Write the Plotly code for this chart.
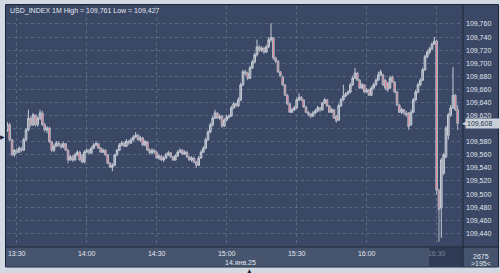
import plotly.graph_objects as go
import pandas as pd

# ---------------- data (USD_INDEX, 1-minute candles, 14 Jan 2025) ----------------
start_time = "2025-01-14 13:26"
n_bars = 194

open_ = [
    109.598, 109.606, 109.583, 109.560, 109.567, 109.564, 109.570, 109.567, 109.583, 109.598,
    109.616, 109.606, 109.621, 109.606, 109.616, 109.624, 109.606, 109.598, 109.601, 109.580,
    109.567, 109.573, 109.578, 109.575, 109.572, 109.577, 109.567, 109.552, 109.557, 109.552,
    109.560, 109.564, 109.560, 109.549, 109.564, 109.567, 109.563, 109.570, 109.575, 109.577,
    109.570, 109.564, 109.567, 109.560, 109.547, 109.541, 109.544, 109.560, 109.567, 109.575,
    109.578, 109.573, 109.581, 109.578, 109.583, 109.587, 109.590, 109.583, 109.586, 109.575,
    109.580, 109.567, 109.563, 109.567, 109.564, 109.555, 109.558, 109.552, 109.555, 109.560,
    109.563, 109.557, 109.552, 109.558, 109.564, 109.567, 109.561, 109.564, 109.557, 109.552,
    109.555, 109.549, 109.544, 109.555, 109.564, 109.570, 109.583, 109.595, 109.606, 109.616,
    109.624, 109.616, 109.619, 109.604, 109.613, 109.618, 109.619, 109.632, 109.638, 109.635,
    109.644, 109.667, 109.687, 109.685, 109.677, 109.693, 109.702, 109.713, 109.725, 109.720,
    109.723, 109.717, 109.725, 109.736, 109.739, 109.708, 109.703, 109.687, 109.679, 109.667,
    109.651, 109.638, 109.625, 109.629, 109.632, 109.644, 109.648, 109.644, 109.633, 109.625,
    109.622, 109.619, 109.624, 109.627, 109.632, 109.629, 109.639, 109.644, 109.635, 109.625,
    109.629, 109.619, 109.613, 109.635, 109.644, 109.650, 109.653, 109.656, 109.667, 109.677,
    109.685, 109.674, 109.662, 109.667, 109.656, 109.659, 109.651, 109.662, 109.667, 109.674,
    109.682, 109.682, 109.674, 109.670, 109.662, 109.679, 109.671, 109.656, 109.636, 109.625,
    109.629, 109.624, 109.624, 109.606, 109.625, 109.644, 109.656, 109.667, 109.674, 109.690,
    109.710, 109.717, 109.722, 109.729, 109.734, 109.506, 109.479, 109.532, 109.557, 109.590,
    109.621, 109.632, 109.651, 109.629,
]
high = [
    109.610, 109.609, 109.584, 109.569, 109.570, 109.573, 109.572, 109.586, 109.601, 109.629,
    109.619, 109.624, 109.622, 109.619, 109.629, 109.627, 109.609, 109.604, 109.603, 109.581,
    109.577, 109.581, 109.581, 109.578, 109.580, 109.578, 109.569, 109.560, 109.560, 109.563,
    109.567, 109.566, 109.561, 109.567, 109.570, 109.569, 109.573, 109.578, 109.581, 109.578,
    109.572, 109.570, 109.569, 109.561, 109.549, 109.547, 109.561, 109.569, 109.578, 109.581,
    109.580, 109.584, 109.583, 109.586, 109.590, 109.595, 109.592, 109.589, 109.587, 109.583,
    109.581, 109.570, 109.570, 109.569, 109.566, 109.561, 109.560, 109.558, 109.563, 109.566,
    109.564, 109.558, 109.561, 109.567, 109.570, 109.569, 109.567, 109.566, 109.558, 109.558,
    109.557, 109.551, 109.558, 109.567, 109.573, 109.586, 109.598, 109.609, 109.619, 109.629,
    109.625, 109.622, 109.621, 109.616, 109.621, 109.622, 109.635, 109.641, 109.639, 109.648,
    109.670, 109.690, 109.690, 109.687, 109.696, 109.705, 109.716, 109.736, 109.728, 109.726,
    109.725, 109.728, 109.740, 109.761, 109.740, 109.710, 109.705, 109.688, 109.681, 109.668,
    109.653, 109.639, 109.632, 109.635, 109.647, 109.654, 109.650, 109.645, 109.635, 109.627,
    109.624, 109.627, 109.630, 109.635, 109.633, 109.641, 109.647, 109.645, 109.636, 109.632,
    109.630, 109.621, 109.638, 109.647, 109.667, 109.656, 109.659, 109.670, 109.681, 109.693,
    109.687, 109.676, 109.670, 109.668, 109.662, 109.661, 109.665, 109.670, 109.677, 109.687,
    109.690, 109.684, 109.676, 109.671, 109.681, 109.681, 109.673, 109.658, 109.638, 109.632,
    109.630, 109.627, 109.625, 109.629, 109.647, 109.659, 109.670, 109.677, 109.693, 109.713,
    109.720, 109.725, 109.732, 109.740, 109.736, 109.508, 109.555, 109.563, 109.604, 109.624,
    109.636, 109.694, 109.653, 109.636,
]
low = [
    109.595, 109.581, 109.558, 109.557, 109.561, 109.563, 109.564, 109.566, 109.581, 109.596,
    109.603, 109.604, 109.603, 109.603, 109.613, 109.604, 109.595, 109.593, 109.578, 109.564,
    109.564, 109.572, 109.572, 109.569, 109.570, 109.566, 109.547, 109.551, 109.549, 109.551,
    109.558, 109.551, 109.547, 109.547, 109.563, 109.560, 109.561, 109.569, 109.573, 109.569,
    109.563, 109.563, 109.558, 109.546, 109.540, 109.535, 109.543, 109.558, 109.566, 109.573,
    109.572, 109.572, 109.575, 109.577, 109.581, 109.586, 109.581, 109.580, 109.573, 109.573,
    109.566, 109.560, 109.561, 109.561, 109.554, 109.552, 109.551, 109.549, 109.554, 109.558,
    109.555, 109.551, 109.551, 109.557, 109.563, 109.560, 109.560, 109.555, 109.551, 109.549,
    109.547, 109.540, 109.543, 109.554, 109.563, 109.569, 109.581, 109.593, 109.603, 109.615,
    109.615, 109.613, 109.601, 109.603, 109.612, 109.615, 109.618, 109.630, 109.632, 109.633,
    109.642, 109.665, 109.681, 109.674, 109.676, 109.691, 109.700, 109.710, 109.717, 109.717,
    109.714, 109.716, 109.723, 109.732, 109.705, 109.700, 109.685, 109.679, 109.665, 109.650,
    109.636, 109.624, 109.624, 109.627, 109.630, 109.642, 109.642, 109.632, 109.624, 109.619,
    109.616, 109.618, 109.622, 109.625, 109.625, 109.627, 109.638, 109.633, 109.624, 109.624,
    109.615, 109.609, 109.612, 109.633, 109.642, 109.648, 109.651, 109.654, 109.665, 109.676,
    109.673, 109.661, 109.661, 109.654, 109.654, 109.650, 109.650, 109.661, 109.665, 109.673,
    109.681, 109.665, 109.659, 109.656, 109.661, 109.670, 109.654, 109.635, 109.624, 109.622,
    109.621, 109.618, 109.598, 109.604, 109.624, 109.642, 109.654, 109.665, 109.673, 109.688,
    109.708, 109.714, 109.720, 109.728, 109.499, 109.427, 109.433, 109.529, 109.555, 109.583,
    109.618, 109.630, 109.627, 109.598,
]
close = [
    109.606, 109.583, 109.560, 109.567, 109.564, 109.570, 109.567, 109.583, 109.598, 109.616,
    109.606, 109.621, 109.606, 109.616, 109.624, 109.606, 109.598, 109.601, 109.580, 109.567,
    109.573, 109.578, 109.575, 109.572, 109.577, 109.567, 109.552, 109.557, 109.552, 109.560,
    109.564, 109.552, 109.549, 109.564, 109.567, 109.563, 109.570, 109.575, 109.577, 109.570,
    109.564, 109.567, 109.560, 109.547, 109.541, 109.544, 109.560, 109.567, 109.575, 109.578,
    109.573, 109.581, 109.578, 109.583, 109.587, 109.590, 109.583, 109.586, 109.575, 109.580,
    109.567, 109.563, 109.567, 109.564, 109.555, 109.558, 109.552, 109.555, 109.560, 109.563,
    109.557, 109.552, 109.558, 109.564, 109.567, 109.561, 109.564, 109.557, 109.552, 109.555,
    109.549, 109.544, 109.555, 109.564, 109.570, 109.583, 109.595, 109.606, 109.616, 109.624,
    109.616, 109.619, 109.604, 109.613, 109.618, 109.619, 109.632, 109.638, 109.635, 109.644,
    109.667, 109.687, 109.684, 109.677, 109.693, 109.702, 109.713, 109.725, 109.720, 109.723,
    109.717, 109.725, 109.736, 109.739, 109.708, 109.703, 109.687, 109.681, 109.667, 109.651,
    109.638, 109.625, 109.629, 109.632, 109.644, 109.648, 109.644, 109.633, 109.625, 109.622,
    109.619, 109.624, 109.627, 109.632, 109.629, 109.639, 109.644, 109.635, 109.625, 109.629,
    109.616, 109.612, 109.635, 109.644, 109.650, 109.653, 109.656, 109.667, 109.677, 109.685,
    109.674, 109.662, 109.667, 109.656, 109.659, 109.651, 109.662, 109.667, 109.674, 109.682,
    109.687, 109.667, 109.662, 109.659, 109.677, 109.671, 109.656, 109.636, 109.625, 109.629,
    109.624, 109.621, 109.603, 109.625, 109.644, 109.656, 109.667, 109.674, 109.690, 109.710,
    109.717, 109.722, 109.729, 109.734, 109.506, 109.476, 109.552, 109.560, 109.601, 109.621,
    109.632, 109.651, 109.629, 109.608,
]

# labelled price levels (109,600 is hidden behind the last-price tag in the source)
price_ticks = [109.44, 109.46, 109.48, 109.50, 109.52, 109.54, 109.56, 109.58,
               109.62, 109.64, 109.66, 109.68, 109.70, 109.72, 109.74, 109.76]
hidden_level = 109.60
time_ticks = ["2025-01-14 13:30", "2025-01-14 14:00", "2025-01-14 14:30", "2025-01-14 15:00",
              "2025-01-14 15:30", "2025-01-14 16:00", "2025-01-14 16:30"]
time_labels = ["13:30", "14:00", "14:30", "15:00", "15:30", "16:00",
               "<span style='color:#7c879b'>16:30</span>"]
title_text = "USD_INDEX 1M High = 109,761 Low = 109,427"
last_price_text = "109,608"
last_price = 109.608
date_text = "14.янв.25"
count_text = "2675"
bars_text = ">195<"

x_range = ["2025-01-14 13:25:50", "2025-01-14 16:40:52"]
y_range = [109.4206, 109.7875]

times = pd.date_range(start_time, periods=n_bars, freq="1min")

# ---------------- style ----------------
W, H = 500, 273
L, R, T, B = 7, 462, 6, 246          # plot area in pixels
OUTER = "#d3d9e2"
PANEL = "#3a4865"
STRIP = "#46546e"
DARK = "#1c2637"
TXT = "#e2e7ef"
GRID = "#5a6883"
FONT = "Liberation Sans, Arial, sans-serif"


def px(xp):
    return (xp - L) / (R - L)


def py(yp):
    return (B - yp) / (B - T)


def rect(x0, y0, x1, y1, fill, line=None):
    return dict(type="rect", xref="paper", yref="paper", layer="below",
                x0=px(x0), x1=px(x1), y0=py(y1), y1=py(y0), fillcolor=fill,
                line=dict(width=1 if line else 0, color=line or fill))


def hline(x0, x1, y):
    return dict(type="line", xref="paper", yref="paper", layer="below",
                x0=px(x0), x1=px(x1), y0=py(y), y1=py(y), line=dict(color=DARK, width=1))


def vline(x, y0, y1):
    return dict(type="line", xref="paper", yref="paper", layer="below",
                x0=px(x), x1=px(x), y0=py(y0), y1=py(y1), line=dict(color=DARK, width=1))


fig = go.Figure(go.Candlestick(
    x=times, open=open_, high=high, low=low, close=close,
    increasing=dict(line=dict(color="#c4cad4", width=1), fillcolor="#8f98a8"),
    decreasing=dict(line=dict(color="#aeb5c1", width=1), fillcolor="#f7758a"),
    whiskerwidth=0, showlegend=False, hoverinfo="skip",
))

shapes = [
    rect(5.5, 4.5, 498.5, 267, PANEL, DARK),
    rect(6, 247, 463, 266.5, STRIP),
    rect(429, 247.5, 462.5, 266.5, "#2f3b54"),
    rect(463.5, 247.5, 498, 266.5, STRIP),
    vline(463, 4.5, 267),
    hline(5.5, 498.5, 247),
    dict(type="line", xref="paper", yref="y", layer="below", x0=0, x1=1,
         y0=hidden_level, y1=hidden_level, line=dict(color=GRID, width=1, dash="dot")),
]

ann = [
    dict(text=title_text, x=px(8), y=py(10.5), xanchor="left", yanchor="middle",
         font=dict(size=7, color=TXT)),
    dict(text=last_price_text, x=px(465), y=last_price, yref="y", xanchor="left",
         yanchor="middle", bgcolor="#c9d0da", borderpad=1, width=31, align="left",
         font=dict(size=7, color="#27324a")),
    dict(text="◀", x=px(463.5), y=last_price, yref="y", xanchor="center", yanchor="middle",
         font=dict(size=5, color="#c9d0da", family="DejaVu Sans")),
    dict(text=date_text, x=px(223), y=py(262), xanchor="left", yanchor="middle",
         font=dict(size=7, color=TXT)),
    dict(text=count_text, x=px(481), y=py(256), xanchor="center", yanchor="middle",
         font=dict(size=7, color=TXT)),
    dict(text=bars_text, x=px(481), y=py(263.5), xanchor="center", yanchor="middle",
         font=dict(size=7, color=TXT)),
    dict(text="▶", x=px(2.5), y=py(136), xanchor="center", yanchor="middle",
         font=dict(size=6, color=DARK, family="DejaVu Sans")),
    dict(text="▲", x=px(249), y=py(270), xanchor="center", yanchor="middle",
         font=dict(size=6, color=DARK, family="DejaVu Sans")),
]
for a in ann:
    a.setdefault("xref", "paper")
    a.setdefault("yref", "paper")
    a["showarrow"] = False

fig.update_layout(
    width=W, height=H,
    margin=dict(l=L, r=W - R, t=T, b=H - B, pad=0),
    paper_bgcolor=OUTER, plot_bgcolor=PANEL,
    font=dict(family=FONT, size=7, color=TXT),
    separators=", ",
    boxgap=0.0,
    shapes=shapes, annotations=ann,
    xaxis=dict(type="date", range=x_range, rangeslider=dict(visible=False),
               tickvals=time_ticks, ticktext=time_labels, ticks="",
               showgrid=True, gridcolor=GRID, griddash="dot", gridwidth=1,
               zeroline=False, showline=False, tickfont=dict(size=7, color=TXT),
               ticklabelstandoff=2, fixedrange=True),
    yaxis=dict(side="right", range=y_range, tickvals=price_ticks, tickformat=".3f",
               ticks="", showgrid=True, gridcolor=GRID, griddash="dot", gridwidth=1,
               zeroline=False, showline=False, tickfont=dict(size=7, color=TXT),
               ticklabelstandoff=3, fixedrange=True),
)

fig.write_html("out.html", config=dict(displayModeBar=False))
